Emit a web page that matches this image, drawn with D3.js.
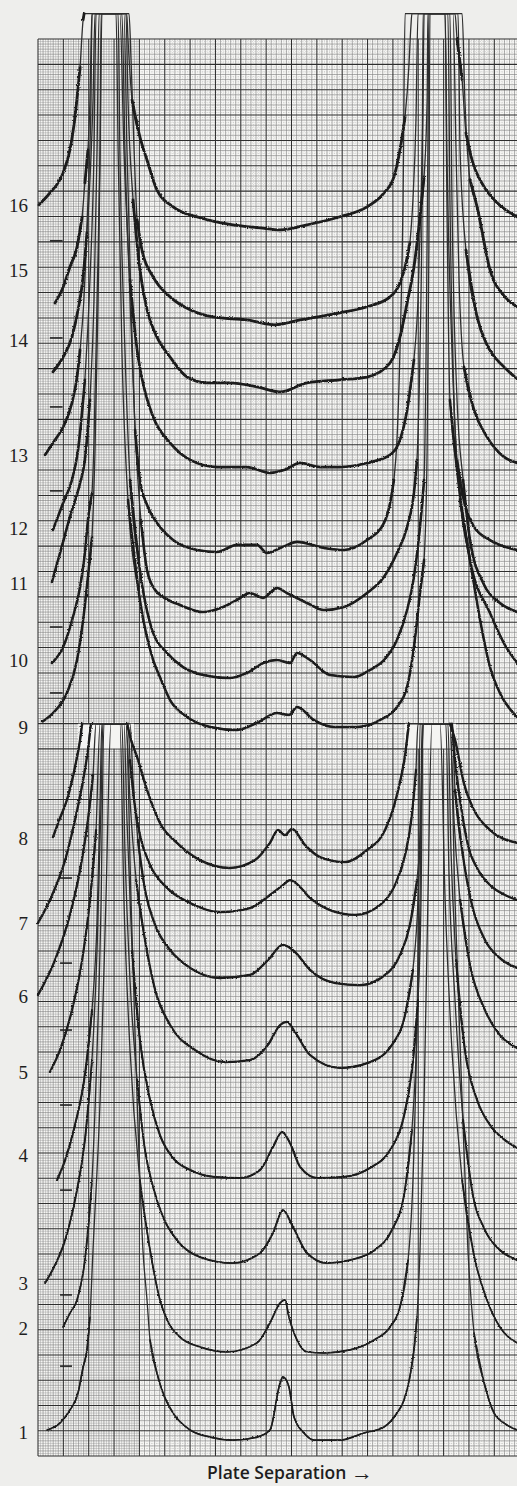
<!DOCTYPE html>
<meta charset="utf-8">
<style>
body { margin: 0; background: #eeeeec; }
svg { display: block; }
.num { font: 19px "Liberation Serif", serif; fill: #1e1e1e; }
.title { font: 600 17.5px "Open Sans", sans-serif; fill: #1e1e1e; }
.trace { fill: none; stroke: #1b1b1b; stroke-linejoin: round; stroke-linecap: round; }
.trace.fast { stroke: #2e2e2e; }
</style>
<script src="https://cdn.jsdelivr.net/npm/d3@7"></script>
<svg width="517" height="1486"></svg>
<script>

// traces, in chart-paper divisions: [plate separation, signal]; 29 is the pen limit
var c16 = [[0.04,21.46],[0.47,21.93],[0.99,22.72],[1.26,23.63],[1.46,24.93],[1.66,26.9],[1.78,28.76],[1.82,29],[3.5,29],[3.55,28.0],[3.71,25.6],[4.02,24.14],[4.30,23.23],[4.69,22.05],[5.33,21.38],[6.39,20.95],[7.69,20.67],[8.76,20.55],[9.55,20.47],[10.61,20.67],[11.91,20.99],[12.98,21.38],[13.65,21.93],[14.04,22.56],[14.28,23.63],[14.48,24.93],[14.63,26.9],[14.71,28.5],[14.75,29],[16.45,29],[16.53,28.0],[16.73,26.4],[16.88,24.3],[17.12,23.23],[17.60,22.17],[18.11,21.54],[18.9,20.99]];
var c15 = [[0.67,17.59],[0.95,18.11],[1.26,19.01],[1.54,19.80],[1.74,20.99],[1.85,22.33],[1.97,23.63],[2.05,25.6],[2.09,27.57],[2.13,29],[3.59,29],[3.67,27.18],[3.79,23.63],[3.91,20.87],[4.10,19.68],[4.54,18.62],[5.21,17.83],[6.00,17.32],[6.90,17.04],[8.24,16.92],[9.35,16.73],[10.34,16.92],[11.91,17.20],[12.98,17.44],[13.89,17.83],[14.28,18.38],[14.48,19.01],[14.67,19.96],[14.79,21.66],[14.91,24.81],[14.99,29],[16.73,29],[16.84,25.6],[17.04,22.45],[17.32,21.38],[17.83,18.90],[18.42,17.83],[18.9,17.44]];
var c14 = [[0.59,14.87],[0.99,15.46],[1.34,16.25],[1.58,17.32],[1.78,18.62],[1.93,20.36],[2.05,22.45],[2.17,25.6],[2.25,29],[3.47,29],[3.55,25.6],[3.75,21.66],[4.02,18.90],[4.30,17.32],[4.69,16.25],[5.21,15.46],[5.88,14.67],[6.67,14.44],[7.57,14.44],[8.64,14.28],[9.55,14.08],[10.61,14.44],[11.91,14.56],[12.98,14.67],[13.89,15.23],[14.28,16.25],[14.56,17.59],[14.83,19.01],[15.07,20.99],[15.23,22.56],[15.35,25.6],[15.38,29],[16.57,29],[16.65,23.63],[16.88,19.68],[17.32,17.04],[17.71,15.94],[18.38,15.07],[18.9,14.60]];
var c13 = [[0.28,11.60],[0.59,12.07],[0.99,12.70],[1.34,13.65],[1.54,14.67],[1.66,15.74],[1.81,17.71],[1.97,21.66],[2.09,25.6],[2.13,29],[3.23,29],[3.39,23.63],[3.63,18.50],[3.91,15.74],[4.14,14.44],[4.54,13.10],[5.21,12.07],[6.00,11.40],[7.06,11.12],[8.24,11.12],[9.15,10.89],[9.74,11.01],[10.34,11.28],[11.12,11.12],[11.91,11.12],[12.98,11.28],[13.89,11.60],[14.28,12.19],[14.56,13.37],[14.83,15.35],[14.99,17.71],[15.11,21.66],[15.19,25.6],[15.23,29],[16.37,29],[16.49,23.63],[16.61,18.50],[16.80,15.07],[17.20,13.37],[17.71,12.31],[18.38,11.52],[18.9,11.28]];
var c12 = [[0.59,8.64],[0.99,9.70],[1.34,10.61],[1.58,11.79],[1.85,14.56],[2.05,18.50],[2.21,23.63],[2.29,29],[3.39,29],[3.51,23.63],[3.67,17.71],[3.83,12.58],[4.02,10.61],[4.30,9.63],[4.69,8.92],[5.33,8.24],[6.27,7.85],[7.06,7.77],[7.85,8.05],[8.64,8.05],[9.03,7.73],[9.66,7.97],[10.22,8.17],[11.28,7.93],[12.07,7.85],[12.98,8.24],[13.65,8.92],[13.89,9.70],[14.04,10.61],[14.16,12.19],[14.28,15.74],[14.40,21.66],[14.48,29],[16.06,29],[16.13,23.63],[16.33,15.74],[16.53,11.40],[16.84,9.63],[17.20,8.76],[17.83,8.24],[18.9,7.85]];
var c11 = [[0.55,6.59],[0.87,7.73],[1.26,9.15],[1.66,10.49],[1.85,11.40],[2.05,13.77],[2.21,17.71],[2.33,23.63],[2.41,29],[3.31,29],[3.43,23.63],[3.63,17.71],[3.83,12.58],[4.06,9.03],[4.30,7.06],[4.62,6.27],[4.93,6.00],[5.60,5.68],[6.51,5.40],[7.30,5.60],[7.85,5.88],[8.36,6.15],[8.88,5.96],[9.43,6.35],[9.82,6.15],[10.61,5.76],[11.28,5.48],[12.07,5.60],[12.98,6.15],[13.65,6.79],[14.16,7.73],[14.56,8.76],[14.83,10.10],[14.95,11.40],[15.07,15.74],[15.15,21.66],[15.19,29],[16.25,29],[16.33,21.66],[16.53,13.77],[16.77,10.61],[17.04,8.24],[17.60,6.47],[18.22,5.76],[18.9,5.40]];
var c10 = [[0.55,3.39],[0.99,4.02],[1.38,5.21],[1.66,6.39],[1.85,7.73],[1.97,9.03],[2.13,10.10],[2.21,12.19],[2.33,17.71],[2.45,23.63],[2.52,29],[3.16,29],[3.23,23.63],[3.43,15.74],[3.63,10.61],[4.02,7.06],[4.54,4.58],[5.09,3.79],[5.72,3.23],[6.51,2.92],[7.57,2.80],[8.24,3.00],[8.88,3.39],[9.43,3.51],[9.94,3.39],[10.22,3.79],[10.73,3.51],[11.52,2.92],[12.47,2.84],[13.10,3.12],[13.65,3.51],[14.16,4.30],[14.56,5.48],[14.83,6.79],[15.07,8.76],[15.23,10.61],[15.31,15.74],[15.38,23.63],[15.42,29],[16.06,29],[16.13,21.66],[16.25,13.77],[16.53,11.01],[17.04,7.46],[17.83,5.36],[18.42,4.10],[18.9,3.39]];
var c9 = [[0.16,1.07],[0.59,1.42],[1.14,2.21],[1.54,3.51],[1.78,5.09],[1.97,6.79],[2.13,8.36],[2.25,11.79],[2.37,17.71],[2.45,23.63],[2.49,29],[3.08,29],[3.16,23.63],[3.31,15.74],[3.55,9.82],[4.02,5.88],[4.54,3.51],[4.81,2.84],[5.21,1.93],[5.88,1.26],[6.79,0.87],[7.85,0.75],[8.64,1.03],[9.43,1.42],[9.90,1.34],[10.22,1.66],[10.89,1.14],[11.68,0.87],[12.58,0.87],[13.49,1.14],[14.16,1.66],[14.56,2.45],[14.83,4.02],[15.07,6.15],[15.23,7.46],[15.35,11.79],[15.42,19.68],[15.46,29],[16.17,29],[16.25,21.66],[16.41,13.77],[16.65,9.82],[17.04,7.46],[17.44,5.09],[17.83,3.23],[18.22,2.21],[18.9,1.26]];

var c8 = [[0.59,24.51],[0.87,25.27],[1.14,25.98],[1.46,27.29],[1.66,28.36],[1.74,29],[3.51,29],[3.67,28.36],[3.91,27.68],[4.30,26.38],[4.81,25.07],[5.48,24.28],[6.39,23.60],[7.57,23.29],[8.56,23.60],[9.15,24.28],[9.47,24.79],[9.74,24.59],[10.02,24.83],[10.53,24.20],[11.12,23.72],[12.11,23.52],[12.98,24.00],[13.69,24.79],[14.16,26.18],[14.48,27.76],[14.63,29],[16.25,29],[16.45,28.36],[16.80,26.65],[17.20,25.58],[17.83,24.79],[18.9,24.28]];
var c7 = [[0.0,21.11],[0.47,22.02],[1.07,23.60],[1.46,25.19],[1.78,26.77],[1.97,27.96],[2.09,29],[3.55,29],[3.63,27.56],[3.79,25.98],[4.02,24.59],[4.42,23.41],[5.09,22.50],[6.00,21.90],[7.18,21.54],[8.36,21.70],[9.15,22.22],[9.66,22.61],[9.94,22.81],[10.22,22.65],[10.73,22.10],[11.52,21.62],[12.51,21.43],[13.49,21.82],[14.08,22.61],[14.48,23.80],[14.75,25.39],[14.91,27.17],[14.99,29],[16.33,29],[16.45,27.56],[16.65,25.98],[16.96,24.20],[17.36,23.21],[17.83,22.61],[18.42,22.22],[18.9,22.02]];
var c6 = [[0.0,18.26],[0.67,19.64],[1.26,21.43],[1.66,23.21],[1.97,25.19],[2.17,26.97],[2.29,29],[3.63,29],[3.75,26.77],[3.94,24.40],[4.22,22.42],[4.62,21.03],[5.21,20.04],[6.00,19.33],[7.18,18.93],[8.36,19.05],[9.07,19.64],[9.66,20.24],[10.14,19.96],[10.73,19.25],[11.73,18.73],[12.70,18.65],[13.69,19.05],[14.28,19.84],[14.67,21.03],[14.95,22.81],[15.11,25.19],[15.19,29],[16.33,29],[16.45,26.38],[16.73,24.00],[17.12,21.82],[17.63,20.44],[18.22,19.72],[18.9,19.33]];
var c5 = [[0.47,15.21],[0.87,16.08],[1.34,17.66],[1.74,19.64],[2.05,22.02],[2.29,24.79],[2.45,29],[3.47,29],[3.63,25.98],[3.87,22.81],[4.22,20.44],[4.62,18.46],[5.21,17.07],[6.19,16.08],[7.38,15.60],[8.36,15.68],[9.07,16.28],[9.55,17.07],[9.82,17.19],[10.14,16.79],[10.73,15.88],[11.91,15.37],[13.10,15.60],[13.96,16.28],[14.48,17.47],[14.79,19.25],[14.99,22.02],[15.11,25.98],[15.19,29],[16.25,29],[16.41,25.19],[16.65,22.02],[17.04,19.45],[17.63,17.66],[18.22,16.67],[18.9,16.16]];
var c4 = [[0.75,10.93],[1.07,11.72],[1.46,13.11],[1.85,15.09],[2.13,17.66],[2.33,21.23],[2.45,25.98],[2.52,29],[3.39,29],[3.51,25.19],[3.71,20.04],[4.02,16.48],[4.42,14.10],[4.81,12.71],[5.33,11.80],[6.00,11.33],[6.98,11.05],[7.97,11.01],[8.76,11.33],[9.27,12.24],[9.63,12.83],[9.94,12.40],[10.34,11.45],[11.01,11.01],[12.03,11.05],[13.10,11.41],[13.89,12.12],[14.40,13.31],[14.75,15.29],[14.99,18.06],[15.11,22.02],[15.19,29],[16.17,29],[16.29,24.00],[16.49,19.64],[16.84,16.08],[17.32,14.10],[17.83,13.11],[18.42,12.51],[18.9,12.20]];
var c3 = [[0.28,6.85],[0.67,7.56],[1.07,8.55],[1.46,10.14],[1.85,12.51],[2.13,15.68],[2.33,20.04],[2.49,25.98],[2.56,29],[3.31,29],[3.43,24.00],[3.63,18.85],[3.91,14.89],[4.22,12.12],[4.54,10.65],[4.93,9.47],[5.48,8.55],[6.39,7.88],[7.69,7.64],[8.76,8.04],[9.27,8.83],[9.66,9.74],[10.06,9.07],[10.61,8.04],[11.40,7.64],[12.31,7.76],[13.29,8.16],[13.96,8.95],[14.44,10.34],[14.75,12.91],[14.95,16.87],[15.07,22.02],[15.15,29],[16.09,29],[16.21,23.21],[16.45,18.06],[16.77,13.31],[17.12,10.53],[17.63,8.95],[18.22,8.16],[18.9,7.76]];
var c2 = [[0.99,5.11],[1.26,5.66],[1.54,6.18],[1.85,7.76],[2.13,10.93],[2.33,16.08],[2.49,22.02],[2.60,29],[3.23,29],[3.39,22.02],[3.63,16.08],[4.02,10.93],[4.42,8.16],[4.81,6.18],[5.09,5.39],[5.60,4.71],[6.39,4.32],[7.46,4.12],[8.64,4.48],[9.15,5.27],[9.55,6.06],[9.74,6.18],[9.90,5.50],[10.22,4.59],[10.61,4.12],[11.28,4.08],[12.31,4.20],[13.25,4.59],[13.89,5.11],[14.28,5.90],[14.60,7.76],[14.83,12.12],[14.99,20.04],[15.07,29],[15.86,29],[16.06,22.02],[16.33,16.08],[16.73,10.93],[17.24,7.76],[17.71,6.18],[18.22,5.11],[18.9,4.48]];
var c1 = [[0.36,1.03],[0.87,1.31],[1.26,1.82],[1.58,2.50],[1.78,3.52],[1.93,4.20],[2.05,5.50],[2.17,8.16],[2.45,14.10],[2.68,22.02],[2.88,29],[3.47,29],[3.67,22.02],[3.91,14.10],[4.14,8.16],[4.30,6.18],[4.42,4.59],[4.69,3.29],[4.93,2.50],[5.33,1.70],[6.00,1.03],[6.79,0.75],[7.69,0.63],[8.64,0.75],[9.15,1.03],[9.55,2.89],[9.66,3.13],[9.90,2.73],[10.10,1.54],[10.49,0.91],[10.89,0.63],[11.91,0.63],[12.86,0.91],[13.65,1.15],[14.16,1.70],[14.44,2.22],[14.67,3.13],[14.83,4.20],[14.95,5.50],[15.07,8.16],[15.23,14.10],[15.38,22.02],[15.54,29],[16.25,29],[16.45,22.02],[16.73,14.10],[16.96,8.16],[17.20,4.87],[17.60,2.89],[17.99,1.70],[18.38,1.31],[18.9,1.03]];

var topTraces = [c16, c15, c14, c13, c12, c11, c10, c9];
var bottomTraces = [c8, c7, c6, c5, c4, c3, c2, c1];

// trace numbers and the level where each is written
var topLabels = [16, 15, 14, 13, 12, 11, 10, 9];
var topLabelLevels = [21.46, 18.90, 16.13, 11.60, 8.72, 6.55, 3.51, 0.87];
var bottomLabels = [8, 7, 6, 5, 4, 3, 2, 1];
var bottomLabelLevels = [24.48, 21.11, 18.22, 15.21, 11.92, 6.85, 5.07, 0.95];

// short reference marks near the left edge
var topDashLevels = [20.04, 16.21, 13.49, 10.18, 4.81, 2.21];
var bottomDashLevels = [22.89, 19.52, 16.87, 13.90, 10.53, 6.38, 3.56];
var topDashSpan = [0.47, 0.97];
var bottomDashSpan = [0.87, 1.34];

var penLimit = 29;

var svg = d3.select("svg");
var x = d3.scaleLinear().domain([0, 19]).range([38, 519.65]);
var yTop = d3.scaleLinear().domain([0, 28]).range([749, 39]);
var yBot = d3.scaleLinear().domain([0, 28]).range([1456, 749]);

// slight pen jitter
var filt = svg.append("defs").append("filter").attr("id", "rough")
    .attr("x", "-5%").attr("y", "-5%").attr("width", "110%").attr("height", "110%");
filt.append("feTurbulence").attr("type", "fractalNoise").attr("baseFrequency", 0.8)
    .attr("numOctaves", 1).attr("seed", 4).attr("result", "n");
filt.append("feDisplacementMap").attr("in", "SourceGraphic").attr("in2", "n")
    .attr("scale", 2.8).attr("xChannelSelector", "R").attr("yChannelSelector", "G");

function grid(g, y) {
  var xs = d3.range(0, 191).map(function(i) { return i / 10; });
  var ys = d3.range(0, 281).map(function(i) { return i / 10; });
  g.append("rect")
      .attr("x", x(0)).attr("y", y(28))
      .attr("width", x(19) - x(0)).attr("height", y(0) - y(28))
      .attr("fill", "#f7f7f5");

  function kind(v) {
    var k = Math.round(v * 10);
    return k % 10 === 0 ? "major" : (k % 2 === 0 ? "fifth" : "tenth");
  }
  var style = {
    major: { stroke: "#2e2e2e", width: 1.05 },
    fifth: { stroke: "#7d7d7d", width: 0.6 },
    tenth: { stroke: "#a3a3a3", width: 0.5 }
  };

  var lines = [];
  xs.forEach(function(v) {
    var k = kind(v);
    lines.push({ x1: v, x2: v, y1: 0, y2: 28, k: k, dot: k === "tenth" && v > 4 });
  });
  ys.forEach(function(v) {
    var k = kind(v);
    if (k === "tenth") {
      lines.push({ x1: 0, x2: 4, y1: v, y2: v, k: k, dot: false });
      lines.push({ x1: 4, x2: 19, y1: v, y2: v, k: k, dot: true });
    } else {
      lines.push({ x1: 0, x2: 19, y1: v, y2: v, k: k, dot: false });
    }
  });
  var order = { tenth: 0, fifth: 1, major: 2 };
  lines.sort(function(a, b) { return order[a.k] - order[b.k]; });

  g.selectAll("line").data(lines).enter().append("line")
      .attr("x1", function(d) { return x(d.x1); })
      .attr("x2", function(d) { return x(d.x2); })
      .attr("y1", function(d) { return y(d.y1); })
      .attr("y2", function(d) { return y(d.y2); })
      .attr("stroke", function(d) { return style[d.k].stroke; })
      .attr("stroke-width", function(d) { return style[d.k].width; })
      .attr("stroke-dasharray", function(d) { return d.dot ? "0.8,1.6" : null; });
}

grid(svg.append("g"), yTop);
grid(svg.append("g"), yBot);

// where the lower traces run over the upper sheet the paper is blank
function limitBoxes(traces) {
  var left = [], right = [];
  traces.forEach(function(t) {
    t.forEach(function(d) { if (d[1] >= penLimit) (d[0] < 9.5 ? left : right).push(d[0]); });
  });
  return [d3.extent(left), d3.extent(right)];
}
svg.append("g").selectAll("rect")
  .data(limitBoxes(bottomTraces))
  .enter().append("rect")
    .attr("x", function(d) { return x(d[0]) - 4; })
    .attr("width", function(d) { return x(d[1]) - x(d[0]) + 8; })
    .attr("y", yBot(penLimit))
    .attr("height", yBot(28) - yBot(penLimit) - 0.5)
    .attr("fill", "#f4f4f2");

// steep parts were written fast and come out thin; slow parts thick
function slowRuns(t, y) {
  var runs = [], cur = null;
  for (var i = 0; i < t.length - 1; i++) {
    var dx = x(t[i + 1][0]) - x(t[i][0]);
    var dy = Math.abs(y(t[i + 1][1]) - y(t[i][1]));
    var flatTop = t[i][1] >= penLimit && t[i + 1][1] >= penLimit;
    if (dy / dx <= 12 && !flatTop) {
      if (!cur) { cur = [t[i]]; runs.push(cur); }
      cur.push(t[i + 1]);
    } else cur = null;
  }
  return runs;
}

function traces(data, y, widths) {
  var line = d3.line()
      .x(function(d) { return x(d[0]); })
      .y(function(d) { return y(d[1]); })
      .curve(d3.curveMonotoneX);
  var g = svg.append("g");
  g.selectAll("path.fast")
    .data(data)
    .enter().append("path")
      .attr("class", "trace fast")
      .attr("stroke-width", 1.3)
      .attr("d", line);
  data.forEach(function(t, i) {
    g.append("g").attr("filter", "url(#rough)")
      .selectAll("path")
      .data(slowRuns(t, y))
      .enter().append("path")
        .attr("class", "trace")
        .attr("stroke-width", widths[i])
        .attr("d", line);
  });
}
traces(topTraces, yTop, [2.8, 2.8, 2.8, 2.7, 2.6, 2.6, 2.5, 2.5]);
traces(bottomTraces, yBot, [2.4, 2.3, 2.3, 2.2, 2.1, 1.9, 1.7, 1.7]);

function dashes(levels, span, y) {
  svg.append("g").selectAll("line")
    .data(levels)
    .enter().append("line")
      .attr("x1", x(span[0])).attr("x2", x(span[1]))
      .attr("y1", function(d) { return y(d); })
      .attr("y2", function(d) { return y(d); })
      .attr("stroke", "#222").attr("stroke-width", 1.6);
}
dashes(topDashLevels, topDashSpan, yTop);
dashes(bottomDashLevels, bottomDashSpan, yBot);

function labels(names, levels, y) {
  svg.append("g").selectAll("text")
    .data(names)
    .enter().append("text")
      .attr("class", "num")
      .attr("x", 28)
      .attr("y", function(d, i) { return y(levels[i]); })
      .attr("dy", "0.36em")
      .attr("text-anchor", "end")
      .text(function(d) { return d; });
}
labels(topLabels, topLabelLevels, yTop);
labels(bottomLabels, bottomLabelLevels, yBot);

var title = svg.append("text")
    .attr("class", "title")
    .attr("x", 290)
    .attr("y", 1479)
    .attr("text-anchor", "middle");
title.append("tspan").text("Plate Separation ");
title.append("tspan").style("font-size", "22px").style("font-weight", 700).attr("dy", 1).text("\u2192");

</script>
